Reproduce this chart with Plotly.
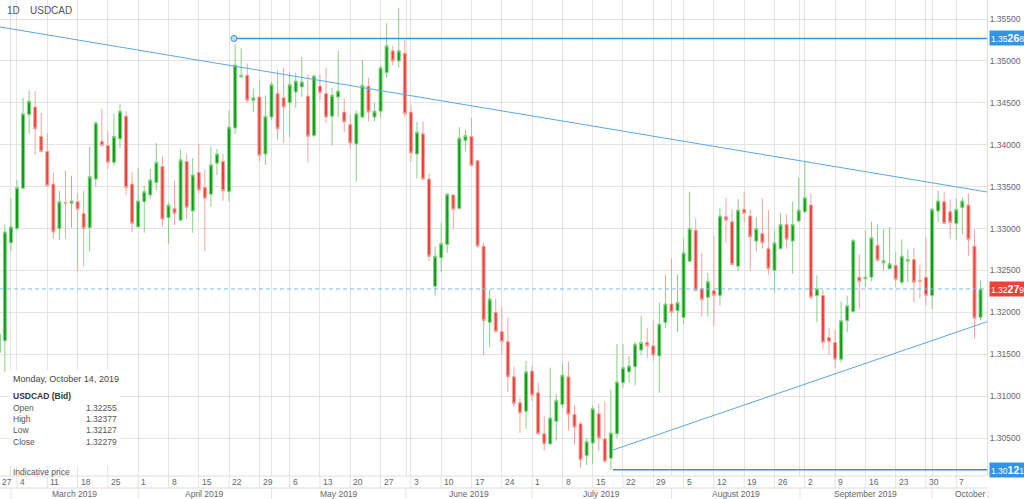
import pandas as pd
import plotly.graph_objects as go

# daily USDCAD candles
dates = pd.bdate_range("2019-02-27", periods=163)

opens = [
    1.3152, 1.3166, 1.3283, 1.3300, 1.3348, 1.3436, 1.3445, 1.3410, 1.3392, 1.3353,
    1.3300, 1.3331, 1.3330, 1.3332, 1.3318, 1.3301, 1.3359, 1.3404, 1.3399, 1.3379,
    1.3407, 1.3434, 1.3353, 1.3302, 1.3332, 1.3340, 1.3355, 1.3374, 1.3313, 1.3324,
    1.3310, 1.3380, 1.3321, 1.3367, 1.3349, 1.3341, 1.3378, 1.3380, 1.3344, 1.3420,
    1.3481, 1.3483, 1.3453, 1.3457, 1.3389, 1.3433, 1.3461, 1.3456, 1.3450, 1.3463,
    1.3469, 1.3458, 1.3411, 1.3470, 1.3461, 1.3434, 1.3457, 1.3439, 1.3424, 1.3401,
    1.3433, 1.3470, 1.3433, 1.3440, 1.3486, 1.3512, 1.3500, 1.3509, 1.3439, 1.3389,
    1.3413, 1.3359, 1.3231, 1.3265, 1.3281, 1.3340, 1.3324, 1.3405, 1.3410, 1.3381,
    1.3279, 1.3188, 1.3200, 1.3177, 1.3165, 1.3123, 1.3092, 1.3082, 1.3130, 1.3104,
    1.3055, 1.3043, 1.3070, 1.3090, 1.3123, 1.3078, 1.3067, 1.3029, 1.3044, 1.3079,
    1.3049, 1.3026, 1.3055, 1.3116, 1.3129, 1.3135, 1.3155, 1.3164, 1.3160, 1.3148,
    1.3188, 1.3210, 1.3202, 1.3194, 1.3261, 1.3298, 1.3228, 1.3218, 1.3226, 1.3220,
    1.3314, 1.3308, 1.3255, 1.3323, 1.3315, 1.3285, 1.3294, 1.3276, 1.3250, 1.3276,
    1.3305, 1.3285, 1.3309, 1.3320, 1.3328, 1.3220, 1.3220, 1.3170, 1.3164, 1.3144,
    1.3190, 1.3201, 1.3242, 1.3240, 1.3242, 1.3280, 1.3259, 1.3252, 1.3256, 1.3236,
    1.3261, 1.3263, 1.3238, 1.3242, 1.3220, 1.3321, 1.3332, 1.3320, 1.3306, 1.3325,
    1.3328, 1.3279, 1.3194,
]
highs = [
    1.3180, 1.3305, 1.3336, 1.3358, 1.3456, 1.3465, 1.3464, 1.3438, 1.3414, 1.3367,
    1.3345, 1.3369, 1.3363, 1.3342, 1.3345, 1.3398, 1.3428, 1.3443, 1.3416, 1.3437,
    1.3449, 1.3440, 1.3367, 1.3372, 1.3351, 1.3371, 1.3402, 1.3386, 1.3331, 1.3357,
    1.3394, 1.3389, 1.3384, 1.3401, 1.3370, 1.3398, 1.3395, 1.3389, 1.3441, 1.3520,
    1.3515, 1.3497, 1.3467, 1.3478, 1.3459, 1.3475, 1.3489, 1.3492, 1.3487, 1.3486,
    1.3505, 1.3484, 1.3484, 1.3484, 1.3492, 1.3468, 1.3512, 1.3455, 1.3436, 1.3441,
    1.3501, 1.3480, 1.3450, 1.3495, 1.3545, 1.3518, 1.3563, 1.3525, 1.3448, 1.3427,
    1.3428, 1.3366, 1.3279, 1.3307, 1.3342, 1.3341, 1.3421, 1.3418, 1.3432, 1.3382,
    1.3283, 1.3227, 1.3216, 1.3207, 1.3194, 1.3135, 1.3098, 1.3142, 1.3136, 1.3116,
    1.3076, 1.3134, 1.3102, 1.3139, 1.3141, 1.3089, 1.3069, 1.3050, 1.3089, 1.3091,
    1.3093, 1.3108, 1.3162, 1.3162, 1.3148, 1.3165, 1.3196, 1.3181, 1.3190, 1.3212,
    1.3245, 1.3264, 1.3245, 1.3289, 1.3344, 1.3312, 1.3271, 1.3247, 1.3291, 1.3325,
    1.3337, 1.3323, 1.3335, 1.3344, 1.3323, 1.3313, 1.3336, 1.3322, 1.3299, 1.3318,
    1.3317, 1.3332, 1.3361, 1.3380, 1.3342, 1.3244, 1.3227, 1.3181, 1.3179, 1.3213,
    1.3220, 1.3287, 1.3269, 1.3298, 1.3308, 1.3305, 1.3299, 1.3302, 1.3272, 1.3287,
    1.3275, 1.3277, 1.3257, 1.3289, 1.3325, 1.3345, 1.3344, 1.3335, 1.3336, 1.3337,
    1.3342, 1.3299, 1.3238,
]
lows = [
    1.3140, 1.3129, 1.3273, 1.3298, 1.3347, 1.3413, 1.3388, 1.3391, 1.3350, 1.3288,
    1.3286, 1.3288, 1.3301, 1.3249, 1.3255, 1.3273, 1.3350, 1.3398, 1.3371, 1.3375,
    1.3396, 1.3340, 1.3296, 1.3301, 1.3295, 1.3335, 1.3346, 1.3302, 1.3282, 1.3304,
    1.3309, 1.3311, 1.3295, 1.3342, 1.3273, 1.3326, 1.3364, 1.3333, 1.3332, 1.3413,
    1.3480, 1.3450, 1.3439, 1.3380, 1.3376, 1.3429, 1.3406, 1.3402, 1.3409, 1.3444,
    1.3457, 1.3379, 1.3409, 1.3453, 1.3426, 1.3399, 1.3433, 1.3415, 1.3395, 1.3356,
    1.3432, 1.3428, 1.3428, 1.3432, 1.3480, 1.3495, 1.3492, 1.3433, 1.3380, 1.3360,
    1.3358, 1.3261, 1.3220, 1.3248, 1.3271, 1.3299, 1.3323, 1.3392, 1.3374, 1.3277,
    1.3149, 1.3159, 1.3176, 1.3150, 1.3105, 1.3087, 1.3056, 1.3061, 1.3094, 1.3054,
    1.3035, 1.3042, 1.3047, 1.3086, 1.3059, 1.3042, 1.3014, 1.3018, 1.3019, 1.3035,
    1.3021, 1.3012, 1.3050, 1.3110, 1.3116, 1.3113, 1.3149, 1.3146, 1.3142, 1.3104,
    1.3181, 1.3195, 1.3176, 1.3186, 1.3260, 1.3225, 1.3195, 1.3195, 1.3183, 1.3208,
    1.3283, 1.3256, 1.3249, 1.3307, 1.3250, 1.3273, 1.3276, 1.3245, 1.3223, 1.3275,
    1.3276, 1.3246, 1.3307, 1.3318, 1.3215, 1.3188, 1.3156, 1.3149, 1.3134, 1.3140,
    1.3176, 1.3200, 1.3204, 1.3230, 1.3237, 1.3261, 1.3250, 1.3251, 1.3230, 1.3233,
    1.3236, 1.3212, 1.3217, 1.3208, 1.3204, 1.3308, 1.3305, 1.3288, 1.3286, 1.3293,
    1.3267, 1.3169, 1.3190,
]
closes = [
    1.3174, 1.3296, 1.3302, 1.3349, 1.3437, 1.3452, 1.3419, 1.3392, 1.3351, 1.3296,
    1.3332, 1.3330, 1.3333, 1.3323, 1.3300, 1.3362, 1.3426, 1.3399, 1.3379, 1.3410,
    1.3440, 1.3349, 1.3306, 1.3333, 1.3344, 1.3358, 1.3379, 1.3311, 1.3328, 1.3318,
    1.3382, 1.3325, 1.3364, 1.3346, 1.3336, 1.3376, 1.3389, 1.3345, 1.3421, 1.3495,
    1.3483, 1.3453, 1.3456, 1.3387, 1.3434, 1.3472, 1.3419, 1.3445, 1.3472, 1.3476,
    1.3475, 1.3410, 1.3482, 1.3462, 1.3433, 1.3459, 1.3464, 1.3427, 1.3402, 1.3437,
    1.3471, 1.3439, 1.3440, 1.3492, 1.3518, 1.3500, 1.3512, 1.3437, 1.3390, 1.3415,
    1.3359, 1.3267, 1.3267, 1.3282, 1.3341, 1.3323, 1.3408, 1.3411, 1.3375, 1.3279,
    1.3190, 1.3216, 1.3177, 1.3165, 1.3123, 1.3091, 1.3080, 1.3129, 1.3101, 1.3055,
    1.3043, 1.3074, 1.3095, 1.3125, 1.3078, 1.3063, 1.3024, 1.3046, 1.3085, 1.3050,
    1.3022, 1.3056, 1.3117, 1.3134, 1.3136, 1.3162, 1.3164, 1.3160, 1.3149, 1.3186,
    1.3210, 1.3200, 1.3212, 1.3271, 1.3300, 1.3226, 1.3215, 1.3237, 1.3220, 1.3315,
    1.3310, 1.3257, 1.3322, 1.3318, 1.3290, 1.3300, 1.3283, 1.3252, 1.3283, 1.3305,
    1.3287, 1.3305, 1.3322, 1.3337, 1.3218, 1.3228, 1.3164, 1.3165, 1.3144, 1.3190,
    1.3208, 1.3286, 1.3237, 1.3242, 1.3289, 1.3262, 1.3262, 1.3258, 1.3239, 1.3267,
    1.3263, 1.3236, 1.3237, 1.3220, 1.3323, 1.3333, 1.3306, 1.3307, 1.3323, 1.3333,
    1.3287, 1.3193, 1.32279,
]

# drawn objects (bar index, price)
trend_down_x = [0.2, 163.07]
trend_down_y = [1.35405, 1.33436]
trend_up_x = [101.35, 163.07]
trend_up_y = [1.30357, 1.31888]
resistance_start = 38.8
resistance = 1.35268
support_start = 101.35
support = 1.30121
last_price = 1.32279

info_title = "Monday, October 14, 2019"
info_rows = [("Open", "1.32255"), ("High", "1.32377"), ("Low", "1.32127"), ("Close", "1.32279")]

W, H = 1024, 499
ML, MR, MT, MB = 0, 37, 0, 23
PW, PH = W - ML - MR, H - MT - MB
XR = [0.198, 163.07]
YR = [1.30047, 1.35727]
FONT = "Liberation Sans, Arial, sans-serif"
GRID = "#e4e4e4"
TXT = "#666666"


def px(p):
    return p / PW


def py(p):
    return 1 - p / PH


x = list(range(len(dates)))

fig = go.Figure()
fig.add_trace(
    go.Candlestick(
        x=x,
        open=opens,
        high=highs,
        low=lows,
        close=closes,
        increasing=dict(line=dict(color="#86d086", width=1), fillcolor="#09a20f"),
        decreasing=dict(line=dict(color="#f4a39d", width=1), fillcolor="#ee4136"),
        whiskerwidth=0,
        showlegend=False,
        hoverinfo="skip",
    )
)

# trend lines and levels
fig.add_trace(go.Scatter(x=trend_down_x, y=trend_down_y, mode="lines",
                         line=dict(color="#58a8ec", width=1), showlegend=False, hoverinfo="skip"))
fig.add_trace(go.Scatter(x=trend_up_x, y=trend_up_y, mode="lines",
                         line=dict(color="#58a8ec", width=1), showlegend=False, hoverinfo="skip"))
fig.add_trace(go.Scatter(x=[XR[0], XR[1]], y=[last_price, last_price], mode="lines",
                         line=dict(color="#7cbcf0", width=1, dash="4px,3px"),
                         showlegend=False, hoverinfo="skip"))
fig.add_trace(go.Scatter(x=[resistance_start, XR[1]], y=[resistance, resistance], mode="lines",
                         line=dict(color="#3393e6", width=1.6), showlegend=False, hoverinfo="skip"))
fig.add_trace(go.Scatter(x=[support_start, XR[1]], y=[support, support], mode="lines",
                         line=dict(color="#3393e6", width=1.6), showlegend=False, hoverinfo="skip"))
fig.add_trace(go.Scatter(x=[resistance_start], y=[resistance], mode="markers",
                         marker=dict(size=6, color="#bddcf7", line=dict(color="#3393e6", width=1)),
                         showlegend=False, hoverinfo="skip", cliponaxis=False))

# weekly and month boundaries
mondays = [i for i, d in enumerate(dates) if d.weekday() == 0]
month_seps = []
for i, d in enumerate(dates):
    if i > 0 and d.month != dates[i - 1].month:
        first_cal = pd.Timestamp(d.year, d.month, 1)
        month_seps.append(i - 0.8 if first_cal.weekday() >= 5 else i)

shapes = []
row1 = -12 / PH
row2 = -23 / PH
for m in mondays:
    shapes.append(dict(type="line", xref="x", yref="paper", x0=m, x1=m, y0=0, y1=row1,
                       line=dict(color=GRID, width=1)))
for s in month_seps:
    shapes.append(dict(type="line", xref="x", yref="paper", x0=s, x1=s, y0=row1, y1=row2,
                       line=dict(color=GRID, width=1)))
for yy in [0, row1]:
    shapes.append(dict(type="line", xref="paper", yref="paper", x0=0, x1=1, y0=yy, y1=yy,
                       line=dict(color="#dcdcdc", width=1)))
# info panel background
shapes.append(dict(type="rect", xref="paper", yref="paper", x0=px(10), x1=px(120),
                   y0=py(466), y1=py(370), fillcolor="white", line=dict(width=0), layer="above"))

ann = []
# header
ann.append(dict(text="1D", xref="paper", yref="paper", x=px(5), y=py(10), xanchor="left",
                yanchor="middle", showarrow=False, font=dict(size=10, color="#555", family=FONT)))
ann.append(dict(text="USDCAD", xref="paper", yref="paper", x=px(28), y=py(10), xanchor="left",
                yanchor="middle", showarrow=False, font=dict(size=10, color="#555", family=FONT)))

# day labels
ann.append(dict(text="27", xref="paper", yref="paper", x=0, y=row1 / 2, xanchor="left",
                yanchor="middle", showarrow=False, font=dict(size=8.5, color=TXT, family=FONT)))
for m in mondays:
    ann.append(dict(text=str(dates[m].day), xref="x", yref="paper", x=m + 0.2, y=row1 / 2,
                    xanchor="left", yanchor="middle", showarrow=False,
                    font=dict(size=8.5, color=TXT, family=FONT)))

# month labels, centred in their cells
edges = month_seps + [170.0]
month_starts = [i for i, d in enumerate(dates) if i > 0 and d.month != dates[i - 1].month]
for k, i in enumerate(month_starts):
    c = (edges[k] + edges[k + 1]) / 2
    ann.append(dict(text=dates[i].strftime("%B %Y"), xref="x", yref="paper",
                    x=c, y=(row1 + row2) / 2, xanchor="center", yanchor="middle", showarrow=False,
                    font=dict(size=8.5, color=TXT, family=FONT)))
# hide month label overflow past the plot edge
ann.append(dict(text="", xref="paper", yref="paper", x=1, y=row1, xanchor="left", yanchor="top",
                width=40, height=12, bgcolor="white", showarrow=False, xshift=1))

# info panel
ann.append(dict(text=info_title, xref="paper", yref="paper", x=px(11), y=py(379), xanchor="left",
                yanchor="middle", showarrow=False, font=dict(size=9, color="#444", family=FONT)))
ann.append(dict(text="<b>USDCAD (Bid)</b>", xref="paper", yref="paper", x=px(11), y=py(396),
                xanchor="left", yanchor="middle", showarrow=False,
                font=dict(size=8.5, color="#333", family=FONT)))
for k, (lab, val) in enumerate(info_rows):
    yy = py(408 + k * 11.2)
    ann.append(dict(text=lab, xref="paper", yref="paper", x=px(11), y=yy, xanchor="left",
                    yanchor="middle", showarrow=False, font=dict(size=8.5, color="#555", family=FONT)))
    ann.append(dict(text=val, xref="paper", yref="paper", x=px(84), y=yy, xanchor="left",
                    yanchor="middle", showarrow=False, font=dict(size=8.5, color="#555", family=FONT)))
ann.append(dict(text="Indicative price", xref="paper", yref="paper", x=px(11), y=py(472),
                xanchor="left", yanchor="middle", showarrow=False,
                font=dict(size=8.5, color="#555", family=FONT)))


def price_tag(v, bg):
    s = f"{v:.5f}"
    txt = f"{s[:4]}<b><span style='font-size:10.5px'>{s[4:6]}</span></b>{s[6:]}"
    return dict(text=txt, xref="paper", yref="y", x=1, y=v, xanchor="left", yanchor="middle",
                xshift=2, showarrow=False, bgcolor=bg, borderpad=1,
                font=dict(size=8.5, color="white", family=FONT))


ann.append(price_tag(resistance, "#3393e6"))
ann.append(price_tag(support, "#3393e6"))
ann.append(price_tag(last_price, "#ec4238"))

fig.update_layout(
    width=W,
    height=H,
    margin=dict(l=ML, r=MR, t=MT, b=MB),
    paper_bgcolor="white",
    plot_bgcolor="white",
    shapes=shapes,
    annotations=ann,
    showlegend=False,
    xaxis=dict(
        range=XR,
        rangeslider=dict(visible=False),
        tickvals=mondays + month_seps,
        showticklabels=False,
        showgrid=True,
        gridcolor=GRID,
        gridwidth=1,
        zeroline=False,
        ticks="",
    ),
    yaxis=dict(
        range=YR,
        side="right",
        dtick=0.005,
        tick0=1.3,
        tickformat=".5f",
        showgrid=True,
        gridcolor=GRID,
        gridwidth=1,
        zeroline=False,
        showline=True,
        linecolor="#dcdcdc",
        ticks="",
        tickfont=dict(size=8.5, color=TXT, family=FONT),
    ),
)

# the page has a default body margin; remove it so the figure sits at the window corner
fig.write_html(
    "out.html",
    config={"displayModeBar": False},
    post_script="document.body.style.margin='0px';document.body.style.overflow='hidden';",
)
